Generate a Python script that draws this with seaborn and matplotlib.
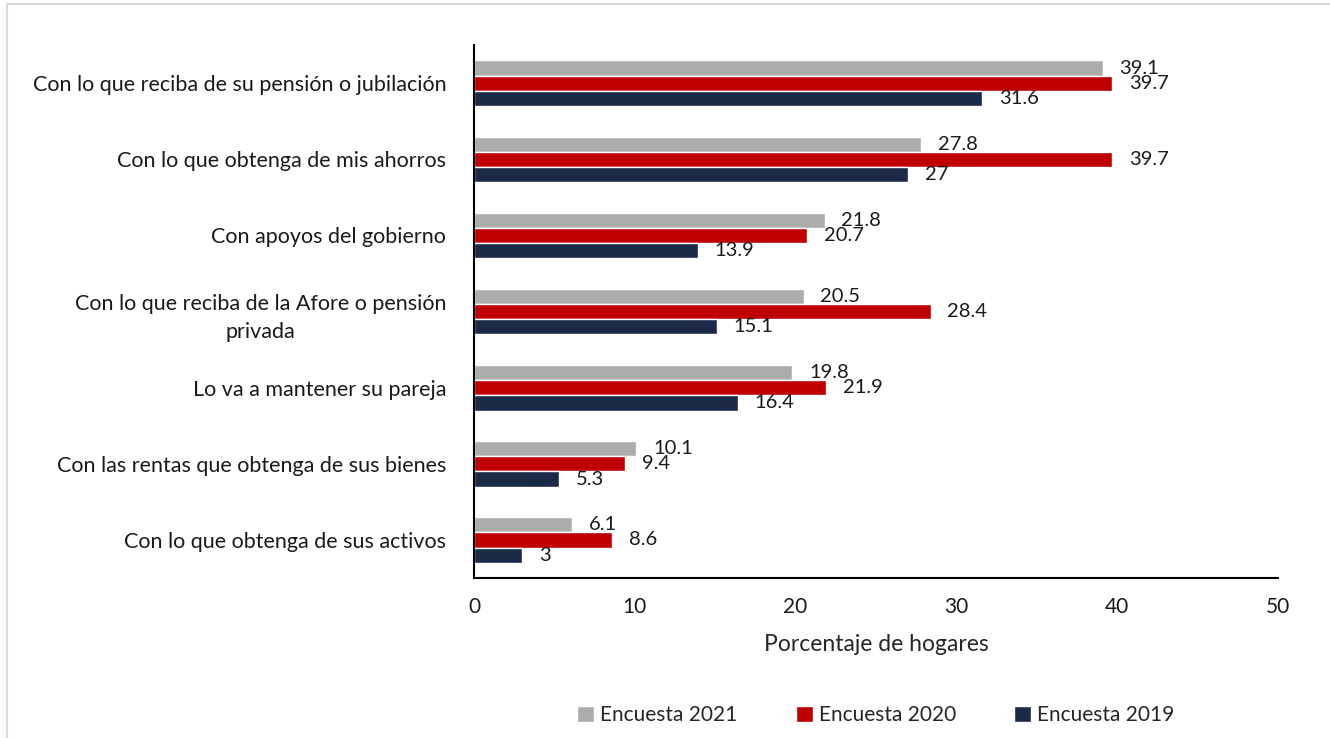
import pandas as pd
import matplotlib.pyplot as plt
import seaborn as sns
from matplotlib.lines import Line2D

# Data
categories = [
    'Con lo que reciba de su pensión o jubilación',
    'Con lo que obtenga de mis ahorros',
    'Con apoyos del gobierno',
    'Con lo que reciba de la Afore o pensión\nprivada',
    'Lo va a mantener su pareja',
    'Con las rentas que obtenga de sus bienes',
    'Con lo que obtenga de sus activos',
]
encuesta_2021 = [39.1, 27.8, 21.8, 20.5, 19.8, 10.1, 6.1]
encuesta_2020 = [39.7, 39.7, 20.7, 28.4, 21.9, 9.4, 8.6]
encuesta_2019 = [31.6, 27, 13.9, 15.1, 16.4, 5.3, 3]
series = ['Encuesta 2021', 'Encuesta 2020', 'Encuesta 2019']
colors = ['#AEABAB', '#C00000', '#1B2A47']

# Long format for seaborn
df = pd.DataFrame({
    'Categoria': categories * 3,
    'Valor': encuesta_2021 + encuesta_2020 + encuesta_2019,
    'Serie': [series[0]] * 7 + [series[1]] * 7 + [series[2]] * 7,
})

sns.set_style('white')
plt.rcParams['font.family'] = ['Lato', 'DejaVu Sans']

fig = plt.figure(figsize=(13.3, 7.38), dpi=100)
ax = fig.add_axes([0.3564, 0.2168, 0.6045, 0.722])

sns.barplot(data=df, y='Categoria', x='Valor', hue='Serie', hue_order=series,
            palette=colors, orient='h', width=0.6, saturation=1, ax=ax)

# Value labels at the end of each bar (they touch, as in the original)
for cont in ax.containers:
    ax.bar_label(cont, fmt='%g', padding=12, fontsize=14.5, color='#1a1a1a')

ax.set_xlim(0, 50)
ax.set_xticks(range(0, 51, 10))
ax.set_xlabel('Porcentaje de hogares', fontsize=16.5, labelpad=12)
ax.set_ylabel('')
ax.tick_params(axis='both', length=0, colors='#1a1a1a')
ax.tick_params(axis='y', pad=20, labelsize=15.5)
ax.tick_params(axis='x', pad=14, labelsize=15)
for lab in ax.get_yticklabels():
    lab.set_multialignment('center')
    lab.set_linespacing(1.55)

sns.despine(ax=ax, top=True, right=True)
ax.spines['left'].set_color('black')
ax.spines['bottom'].set_color('black')
ax.spines['left'].set_linewidth(1.5)
ax.spines['bottom'].set_linewidth(1.5)

ax.legend(loc='center', bbox_to_anchor=(0.5, -0.257), ncol=3, frameon=False,
          fontsize=15, handlelength=0.8, handleheight=0.8, handletextpad=0.3,
          columnspacing=2.8)

# Light gray frame (top and left edges visible)
fig.add_artist(Line2D([0.005, 1.0], [0.994, 0.994], color='#D9D9D9', lw=1.5,
                      transform=fig.transFigure))
fig.add_artist(Line2D([0.005, 0.005], [0.0, 0.994], color='#D9D9D9', lw=1.5,
                      transform=fig.transFigure))

fig.savefig('out.png', dpi=100)
